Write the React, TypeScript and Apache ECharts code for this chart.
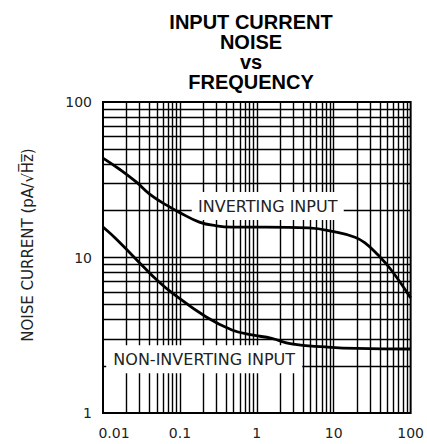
import React, { useEffect, useRef } from 'react';
import * as echarts from 'echarts';

const titleText = 'INPUT CURRENT\nNOISE\nvs\nFREQUENCY';
const yAxisName = 'NOISE CURRENT (pA/\u221AH\u0305z\u0305)';

const xTickValues = [0.01, 0.1, 1, 10, 100];
const xTickLabels = ['0.01', '0.1', '1', '10', '100'];
const yTickValues = [1, 10, 100];
const yTickLabels = ['1', '10', '100'];

// frequency (Hz) and noise (pA/sqrt(Hz))
const invertingFreq = [0.01, 0.0166, 0.0275, 0.0404, 0.067, 0.0986, 0.179, 0.296, 0.475, 1.3, 4.7, 10.4, 18.9, 25.5, 37.5, 55, 100];
const invertingNoise = [43.6, 36.8, 30.4, 25.6, 21.7, 19.5, 16.9, 16.0, 15.7, 15.7, 15.5, 14.6, 13.5, 12.4, 10.4, 8.4, 5.5];

const nonInvFreq = [0.01, 0.0152, 0.037, 0.0498, 0.08, 0.22, 0.475, 0.86, 1.56, 2.83, 7.8, 20, 100];
const nonInvNoise = [15.7, 13.0, 8.3, 7.2, 5.9, 4.14, 3.42, 3.18, 3.02, 2.78, 2.66, 2.6, 2.58];

const labelNames = ['INVERTING INPUT', 'NON-INVERTING INPUT'];
const labelCoords: [number, number][] = [[1.387, 21.4], [0.207, 2.22]];
const labelBoxWidths = [152, 196];

function logLabel(v: number, values: number[], labels: string[]) {
  const i = values.findIndex((t) => Math.abs(Math.log10(t) - Math.log10(v)) < 1e-6);
  return i >= 0 ? labels[i] : '';
}

export default function App() {
  const ref = useRef<HTMLDivElement>(null);
  useEffect(() => {
    if (!ref.current) return;
    const chart = echarts.init(ref.current, undefined, { renderer: 'svg' });

    const gridX: number[] = [];
    for (let d = -2; d < 2; d++) {
      for (let m = 1; m < 10; m++) {
        if (d === -2 && m === 1) continue;
        gridX.push(parseFloat((m * Math.pow(10, d)).toPrecision(6)));
      }
    }
    const gridY: number[] = [];
    for (let d = 0; d < 2; d++) {
      for (let m = 1; m < 10; m++) {
        if (d === 0 && m === 1) continue;
        gridY.push(m * Math.pow(10, d));
      }
    }

    const font = 'DejaVu Sans';

    chart.setOption({
      animation: false,
      backgroundColor: '#fff',
      title: {
        text: titleText,
        left: 246,
        top: 7,
        textAlign: 'center',
        textStyle: {
          fontFamily: 'Liberation Sans, Arial, sans-serif',
          fontWeight: 'bold',
          fontSize: 20,
          lineHeight: 20,
          color: '#000',
        },
      },
      grid: {
        left: 103,
        top: 102,
        right: 14,
        bottom: 31,
        show: true,
        borderColor: '#000',
        borderWidth: 2,
        backgroundColor: 'transparent',
      },
      xAxis: {
        type: 'log',
        logBase: 10,
        min: 0.01,
        max: 100,
        axisLine: { show: false },
        axisTick: { show: false },
        splitLine: { show: false },
        minorTick: { show: false },
        axisLabel: {
          margin: 13,
          fontFamily: font,
          fontSize: 14,
          color: '#222',
          formatter: (v: number) => {
            const s = logLabel(v, xTickValues, xTickLabels);
            return s === xTickLabels[0] ? '{first|' + s + '}' : s;
          },
          rich: {
            first: { fontFamily: font, fontSize: 14, color: '#222', padding: [0, 0, 0, 22] },
          },
        },
      },
      yAxis: {
        type: 'log',
        logBase: 10,
        min: 1,
        max: 100,
        axisLine: { show: false },
        axisTick: { show: false },
        splitLine: { show: false },
        minorTick: { show: false },
        axisLabel: {
          margin: 11,
          fontFamily: font,
          fontSize: 14,
          color: '#222',
          formatter: (v: number) => logLabel(v, yTickValues, yTickLabels),
        },
        name: yAxisName,
        nameLocation: 'middle',
        nameGap: 68,
        nameRotate: 90,
        nameTextStyle: {
          fontFamily: font,
          fontSize: 15,
          color: '#222',
          padding: [0, 0, 0, 25],
        },
      },
      series: [
        {
          name: 'grid',
          type: 'line',
          data: [],
          silent: true,
          markLine: {
            z: 1,
            silent: true,
            symbol: 'none',
            label: { show: false },
            lineStyle: { color: '#000', width: 1.4, type: 'solid' },
            emphasis: { disabled: true },
            data: [
              ...gridX.map((v) => ({ xAxis: v })),
              ...gridY.map((v) => ({ yAxis: v })),
            ],
          },
        },
        {
          name: 'labels',
          type: 'scatter',
          data: [],
          silent: true,
          markPoint: {
            z: 2,
            silent: true,
            data: labelNames.map((n, i) => ({
              name: n,
              coord: labelCoords[i],
              symbol: 'rect',
              symbolSize: [labelBoxWidths[i], 28],
              itemStyle: { color: '#fff' },
              label: {
                show: true,
                position: 'inside',
                formatter: '{b}',
                fontFamily: font,
                fontSize: 16,
                color: '#222',
              },
            })),
          },
        },
        {
          name: 'INVERTING INPUT',
          type: 'line',
          z: 10,
          smooth: 0.45,
          symbol: 'none',
          lineStyle: { color: '#000', width: 2.8 },
          data: invertingFreq.map((f, i) => [f, invertingNoise[i]]),
        },
        {
          name: 'NON-INVERTING INPUT',
          type: 'line',
          z: 10,
          smooth: 0.45,
          symbol: 'none',
          lineStyle: { color: '#000', width: 2.8 },
          data: nonInvFreq.map((f, i) => [f, nonInvNoise[i]]),
        },
      ],
    });
    return () => chart.dispose();
  }, []);
  return (
    <div
      ref={ref}
      style={{ position: 'absolute', left: 0, top: 0, width: 427, height: 444 }}
    />
  );
}
